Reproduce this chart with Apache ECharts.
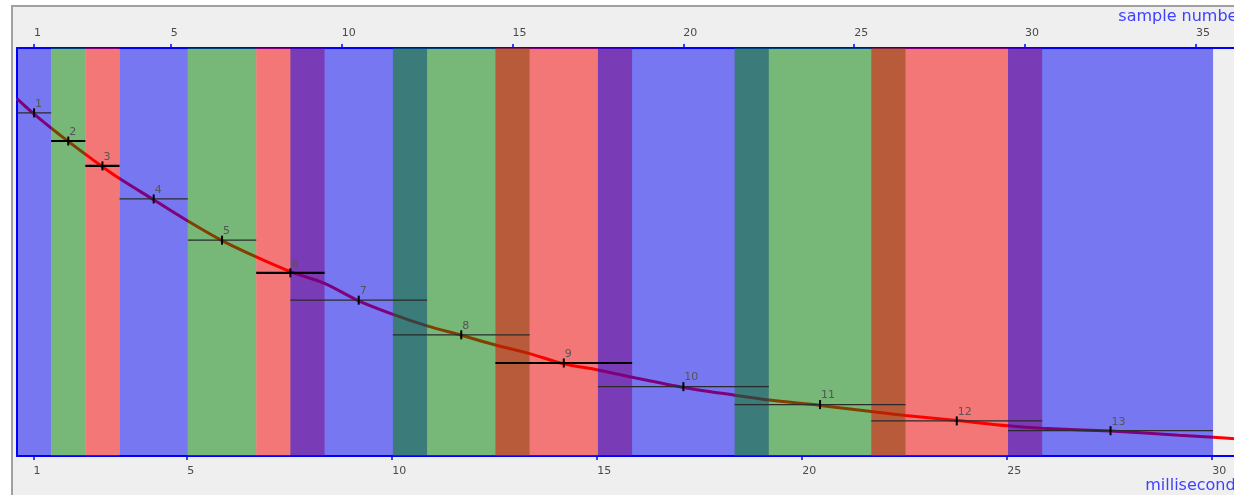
<!DOCTYPE html>
<html>
<head>
<meta charset="utf-8">
<script src="https://cdn.jsdelivr.net/npm/echarts@6/dist/echarts.min.js"></script>
<style>
  html, body { margin: 0; padding: 0; background: #fff; overflow: hidden; }
  #chart { width: 1238px; height: 495px; }
</style>
</head>
<body>
<div id="chart"></div>
<script>
// tick labels
var sampleTicks = [1, 5, 10, 15, 20, 25, 30, 35];
var msTicks = [1.25, 5, 10, 15, 20, 25, 30];

// segments (in sample numbers) with their level
var segStart = [0.5, 1.5, 2.5, 3.5, 5.5, 7.5, 8.5, 11.5, 14.5, 17.5, 21.5, 25.5, 29.5];
var segEnd   = [1.5, 2.5, 3.5, 5.5, 7.5, 9.5, 12.5, 15.5, 18.5, 22.5, 26.5, 30.5, 35.5];
var segLevel = [84.1, 77.2, 71.1, 63.0, 52.9, 44.9, 38.2, 29.7, 22.8, 17.0, 12.6, 8.6, 6.2];
var segNames = ["1", "2", "3", "4", "5", "6", "7", "8", "9", "10", "11", "12", "13"];

// curve (sample number, value)
var curveX = [0.5, 1, 2, 3, 3.5, 4.5, 5.5, 6.5, 7.5, 8.5, 9.5, 10.5, 11.5, 12.5, 13.5, 14.5, 15.5,
              16.5, 17.5, 18.5, 20, 21.5, 22.5, 24, 25.5, 26.5, 28, 29.5, 30.5, 32.5, 34.5, 35.5, 36.3];
var curveY = [87.6, 83.8, 77.1, 70.9, 68.0, 62.8, 57.6, 52.8, 48.8, 45.2, 42.3, 38.0, 34.7, 31.9, 29.6, 27.2, 25.1,
              22.6, 21.1, 19.3, 16.8, 14.9, 13.7, 12.4, 10.9, 9.9, 8.7, 7.4, 6.8, 6.1, 5.1, 4.6, 4.1];

// segments drawn with a heavier line
var heavySegs = [2, 3, 6, 9];

var bandColors = ["rgba(0,0,245,0.5)", "rgba(0,127,0,0.5)", "rgba(249,0,0,0.5)"];
var labelFont = "DejaVu Sans";

var myChart = echarts.init(document.getElementById("chart"));

var bandData = segStart.map(function (s, i) { return [s, segEnd[i], i]; });
var segData = segStart.map(function (s, i) { return [s, segEnd[i], segLevel[i], i]; });
var curveData = curveX.map(function (x, i) { return [x, curveY[i]]; });

myChart.setOption({
  backgroundColor: "#fff",
  animation: false,
  graphic: [{
    type: "rect",
    z: -10,
    shape: { x: 12, y: 6, width: 1400, height: 600 },
    style: { fill: "#efefef", stroke: "#a0a0a0", lineWidth: 2 }
  }],
  grid: {
    left: 17, right: 0, top: 48, bottom: 39,
    outerBoundsMode: "none",
    containLabel: false,
    show: true, backgroundColor: "#efefef", borderWidth: 0
  },
  xAxis: [
    {
      type: "value",
      position: "bottom",
      min: 0.85,
      max: 30.63,
      name: "milliseconds",
      nameLocation: "end",
      nameGap: 6,
      nameMoveOverlap: false,
      nameTextStyle: {
        color: "#4040ff", fontSize: 16, fontFamily: labelFont,
        align: "right", verticalAlign: "top", padding: [22, 0, 0, 0]
      },
      axisLine: { lineStyle: { color: "#0000ff", width: 2 } },
      axisTick: { show: true, customValues: msTicks, length: 4, lineStyle: { color: "#0000ff", width: 1.5 } },
      axisLabel: {
        customValues: msTicks, align: "left", margin: 10,
        color: "#4a4a4a", fontSize: 11, fontFamily: labelFont,
        formatter: function (v) { return String(Math.round(v)); }
      },
      splitLine: { show: false }
    },
    {
      type: "value",
      position: "top",
      min: 0.5,
      max: 36.23,
      name: "sample number",
      nameLocation: "end",
      nameGap: 6,
      nameMoveOverlap: false,
      nameTextStyle: {
        color: "#4040ff", fontSize: 16, fontFamily: labelFont,
        align: "right", verticalAlign: "bottom", padding: [0, 0, 23, 0]
      },
      axisLine: { lineStyle: { color: "#0000ff", width: 2 } },
      axisTick: { show: true, customValues: sampleTicks, length: 4, lineStyle: { color: "#0000ff", width: 1.5 } },
      axisLabel: {
        customValues: sampleTicks, align: "left", margin: 9,
        color: "#4a4a4a", fontSize: 11, fontFamily: labelFont
      },
      splitLine: { show: false }
    }
  ],
  yAxis: {
    type: "value",
    min: 0,
    max: 100,
    axisLine: { show: true, lineStyle: { color: "#0000ff", width: 2 } },
    axisTick: { show: false },
    axisLabel: { show: false },
    splitLine: { show: false }
  },
  series: [
    {
      name: "curve",
      type: "line",
      xAxisIndex: 1,
      data: curveData,
      smooth: 0.3,
      showSymbol: false,
      z: 2,
      lineStyle: { color: "#ff0000", width: 3 }
    },
    {
      name: "bands",
      type: "custom",
      xAxisIndex: 1,
      data: bandData,
      z: 3,
      silent: true,
      renderItem: function (params, api) {
        var p0 = api.coord([api.value(0), 100]);
        var p1 = api.coord([api.value(1), 0]);
        return {
          type: "rect",
          shape: { x: p0[0], y: p0[1], width: p1[0] - p0[0], height: p1[1] - p0[1] },
          style: { fill: bandColors[api.value(2) % 3] }
        };
      }
    },
    {
      name: "segments",
      type: "custom",
      xAxisIndex: 1,
      data: segData,
      z: 4,
      silent: true,
      renderItem: function (params, api) {
        var idx = api.value(3);
        var a = api.coord([api.value(0), api.value(2)]);
        var b = api.coord([api.value(1), api.value(2)]);
        var c = api.coord([(api.value(0) + api.value(1)) / 2, api.value(2)]);
        var heavy = heavySegs.indexOf(idx + 1) >= 0;
        return {
          type: "group",
          children: [
            {
              type: "line",
              shape: { x1: a[0], y1: a[1], x2: b[0], y2: b[1] },
              style: { stroke: heavy ? "#000" : "#2a2a2a", lineWidth: heavy ? 2.2 : 1.3 }
            },
            {
              type: "line",
              shape: { x1: c[0], y1: c[1] - 4.5, x2: c[0], y2: c[1] + 4.5 },
              style: { stroke: "#000", lineWidth: 2 }
            },
            {
              type: "text",
              style: {
                text: segNames[idx], x: c[0] + 1, y: c[1] - 9,
                fill: "#555", fontSize: 11, fontFamily: labelFont,
                textAlign: "left", textVerticalAlign: "middle"
              }
            }
          ]
        };
      }
    }
  ]
});
</script>
</body>
</html>
